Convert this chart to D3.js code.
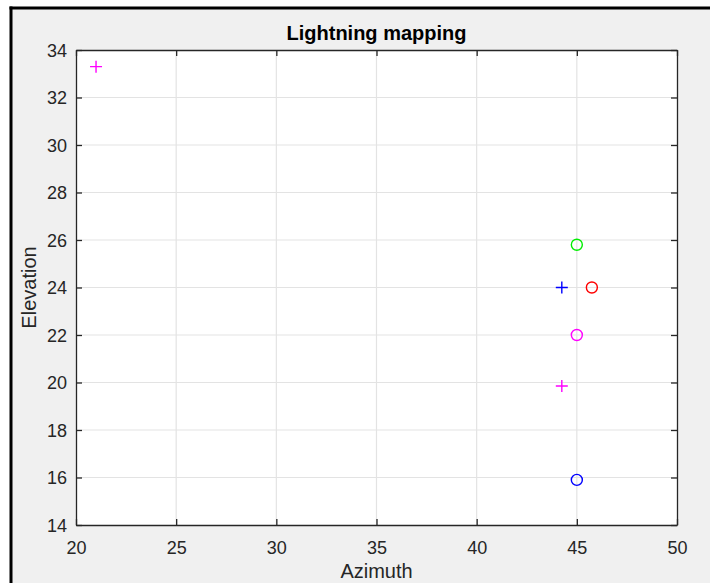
<!DOCTYPE html>
<html>
<head>
<meta charset="utf-8">
<script src="https://cdn.jsdelivr.net/npm/d3@7"></script>
<style>
  html, body { margin: 0; padding: 0; background: #ffffff; }
  svg { display: block; }
  text { font-family: "Liberation Sans", Arial, Helvetica, sans-serif; }
</style>
</head>
<body>
<svg id="chart" width="710" height="583"></svg>
<script>
// ---- data ----
const azimuth   = [21.0, 45.0, 44.25, 45.75, 45.0, 44.25, 45.0];
const elevation = [33.3, 25.8, 24.0, 24.0, 22.0, 19.85, 15.9];
const markerType = ["+", "o", "+", "o", "o", "+", "o"];
const series = ["m", "g", "b", "r", "m", "m", "b"];
const xTicks = [20, 25, 30, 35, 40, 45, 50];
const yTicks = [14, 16, 18, 20, 22, 24, 26, 28, 30, 32, 34];
const titleText = "Lightning mapping";
const xLabel = "Azimuth";
const yLabel = "Elevation";

// ---- styling ----
const colorMap = { m: "#ff00ff", g: "#00ee00", b: "#0000ff", r: "#ff0000" };
const W = 710, H = 583;
const plot = { left: 76, right: 677, top: 50, bottom: 525 };
const textColor = "#262626";
const axisColor = "#262626";

const svg = d3.select("#chart");

// background + partial frame
svg.append("rect").attr("x", 0).attr("y", 0).attr("width", W).attr("height", H).attr("fill", "#ffffff");
svg.append("rect").attr("x", 11).attr("y", 8).attr("width", W - 11).attr("height", H - 8).attr("fill", "#f0f0f0");
svg.append("line").attr("x1", 9.5).attr("x2", W).attr("y1", 8).attr("y2", 8)
   .attr("stroke", "#000").attr("stroke-width", 3);
svg.append("line").attr("x1", 11).attr("x2", 11).attr("y1", 6.5).attr("y2", H)
   .attr("stroke", "#000").attr("stroke-width", 3);

const x = d3.scaleLinear().domain([20, 50]).range([plot.left, plot.right]);
const y = d3.scaleLinear().domain([14, 34]).range([plot.bottom, plot.top]);

// plot area
svg.append("rect")
  .attr("x", plot.left).attr("y", plot.top)
  .attr("width", plot.right - plot.left).attr("height", plot.bottom - plot.top)
  .attr("fill", "#ffffff");

// grid
const grid = svg.append("g");
grid.selectAll("line.gx").data(xTicks.slice(1, -1)).join("line")
  .attr("x1", d => x(d)).attr("x2", d => x(d))
  .attr("y1", plot.top).attr("y2", plot.bottom)
  .attr("stroke", "#e3e3e3").attr("stroke-width", 1.2);
grid.selectAll("line.gy").data(yTicks.slice(1, -1)).join("line")
  .attr("x1", plot.left).attr("x2", plot.right)
  .attr("y1", d => y(d)).attr("y2", d => y(d))
  .attr("stroke", "#e3e3e3").attr("stroke-width", 1.2);

// axes (ticks inside, box on)
const tickLen = 6;
const xAxisB = d3.axisBottom(x).tickValues(xTicks).tickSizeInner(-tickLen).tickSizeOuter(0).tickFormat(d3.format("d"));
const xAxisT = d3.axisTop(x).tickValues(xTicks).tickSizeInner(-tickLen).tickSizeOuter(0).tickFormat("");
const yAxisL = d3.axisLeft(y).tickValues(yTicks).tickSizeInner(-tickLen).tickSizeOuter(0).tickFormat(d3.format("d"));
const yAxisR = d3.axisRight(y).tickValues(yTicks).tickSizeInner(-tickLen).tickSizeOuter(0).tickFormat("");

function styleAxis(g) {
  g.select(".domain").attr("stroke", axisColor).attr("stroke-width", 1.3);
  g.selectAll(".tick line").attr("stroke", axisColor).attr("stroke-width", 1.3);
  g.selectAll(".tick text").attr("fill", textColor).attr("font-size", 18)
   .attr("font-family", '"Liberation Sans", Arial, sans-serif');
}

svg.append("g").attr("transform", `translate(0,${plot.bottom})`).call(xAxisB).call(styleAxis)
  .call(g => g.selectAll(".tick text").attr("y", 16).attr("dy", "0.71em"));
svg.append("g").attr("transform", `translate(0,${plot.top})`).call(xAxisT).call(styleAxis);
svg.append("g").attr("transform", `translate(${plot.left},0)`).call(yAxisL).call(styleAxis)
  .call(g => g.selectAll(".tick text").attr("x", -9).attr("dy", "0.36em"));
svg.append("g").attr("transform", `translate(${plot.right},0)`).call(yAxisR).call(styleAxis);

// markers
const pts = azimuth.map((a, i) => ({ a, e: elevation[i], m: markerType[i], s: series[i] }));
const mk = svg.append("g");
const circ = pts.filter(p => p.m === "o");
const plus = pts.filter(p => p.m === "+");
mk.selectAll("circle").data(circ).join("circle")
  .attr("cx", d => x(d.a)).attr("cy", d => y(d.e)).attr("r", 5.5)
  .attr("fill", "none").attr("stroke", d => colorMap[d.s]).attr("stroke-width", 1.4);
const half = 6;
mk.selectAll("path.plus").data(plus).join("path")
  .attr("d", d => {
    const cx = x(d.a), cy = y(d.e);
    return `M${cx - half},${cy}H${cx + half}M${cx},${cy - half}V${cy + half}`;
  })
  .attr("fill", "none").attr("stroke", d => colorMap[d.s]).attr("stroke-width", 1.4);

// title & labels
svg.append("text").attr("x", (plot.left + plot.right) / 2).attr("y", 40)
  .attr("text-anchor", "middle").attr("font-size", 20).attr("font-weight", "bold")
  .attr("fill", "#000").text(titleText);
svg.append("text").attr("x", (plot.left + plot.right) / 2).attr("y", 578)
  .attr("text-anchor", "middle").attr("font-size", 20).attr("fill", textColor).text(xLabel);
svg.append("text").attr("transform", `translate(36,${(plot.top + plot.bottom) / 2}) rotate(-90)`)
  .attr("text-anchor", "middle").attr("font-size", 20).attr("fill", textColor).text(yLabel);
</script>
</body>
</html>
